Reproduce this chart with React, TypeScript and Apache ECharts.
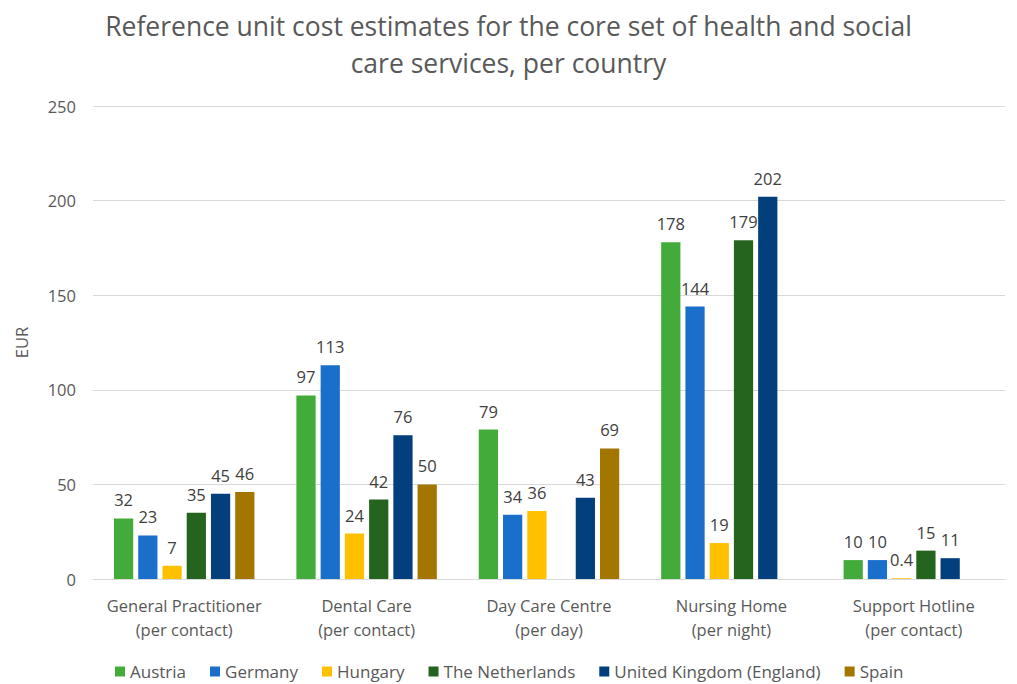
import React, { useEffect, useRef } from "react";
import * as echarts from "echarts";

const categories = [
  "General Practitioner\n(per contact)",
  "Dental Care\n(per contact)",
  "Day Care Centre\n(per day)",
  "Nursing Home\n(per night)",
  "Support Hotline\n(per contact)",
];
const countries = ["Austria", "Germany", "Hungary", "The Netherlands", "United Kingdom (England)", "Spain"];
const colors = ["#43AB3A", "#1A6FCB", "#FFC000", "#25641F", "#023F7C", "#A37600"];
const austria = [32, 97, 79, 178, 10];
const germany = [23, 113, 34, 144, 10];
const hungary = [7, 24, 36, 19, 0.4];
const netherlands = [35, 42, null, 179, 15];
const uk = [45, 76, 43, 202, 11];
const spain = [46, 50, 69, null, null];
const seriesData = [austria, germany, hungary, netherlands, uk, spain];
const yTicks = { min: 0, max: 250, interval: 50 };

export default function App() {
  const ref = useRef<HTMLDivElement>(null);
  useEffect(() => {
    const chart = echarts.init(ref.current!, null, { renderer: "svg" });
    const font = "'Open Sans', 'Noto Sans', sans-serif";
    chart.setOption({
      animation: false,
      textStyle: { fontFamily: font },
      title: {
        text: "Reference unit cost estimates for the core set of health and social\ncare services, per country",
        left: "center",
        top: 2,
        textStyle: { fontSize: 26.5, fontWeight: "normal", color: "#595959", lineHeight: 37, fontFamily: font },
      },
      legend: {
        data: countries,
        top: 663,
        left: 115,
        padding: 0,
        itemWidth: 10,
        itemHeight: 10,
        itemGap: 24,
        icon: "rect",
        textStyle: { fontSize: 17, color: "#595959", fontFamily: font },
      },
      grid: { left: 93, right: 12, top: 106, bottom: 105 },
      xAxis: {
        type: "category",
        data: categories,
        axisTick: { show: false },
        axisLine: { lineStyle: { color: "#D9D9D9" } },
        axisLabel: { fontSize: 16.5, color: "#595959", lineHeight: 24, margin: 14, interval: 0 },
      },
      yAxis: {
        type: "value",
        min: yTicks.min,
        max: yTicks.max,
        interval: yTicks.interval,
        name: "EUR",
        nameLocation: "middle",
        nameGap: 63,
        nameTextStyle: { fontSize: 16.5, color: "#595959" },
        axisLine: { show: false },
        axisTick: { show: false },
        axisLabel: { fontSize: 16.5, color: "#595959", margin: 17 },
        splitLine: { lineStyle: { color: "#D9D9D9" } },
      },
      series: countries.map((name, i) => ({
        name,
        type: "bar",
        data: seriesData[i],
        barGap: "26%",
        barCategoryGap: "23%",
        itemStyle: { color: colors[i] },
        label: {
          show: true,
          position: "top",
          distance: 10,
          fontSize: 16.5,
          color: "#404040",
        },
      })),
    });
    return () => chart.dispose();
  }, []);
  return (
    <div
      ref={ref}
      style={{ position: "absolute", left: 0, top: 0, width: 1017, height: 684 }}
    />
  );
}
